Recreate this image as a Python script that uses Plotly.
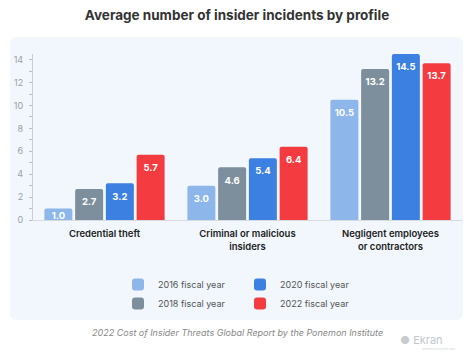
import plotly.graph_objects as go

categories = ["Credential theft", "Criminal or malicious<br>insiders", "Negligent employees<br>or contractors"]
series_names = ["2016 fiscal year", "2018 fiscal year", "2020 fiscal year", "2022 fiscal year"]
v2016 = [1.0, 3.0, 10.5]
v2018 = [2.7, 4.6, 13.2]
v2020 = [3.2, 5.4, 14.5]
v2022 = [5.7, 6.4, 13.7]
y_ticks = [0, 2, 4, 6, 8, 10, 12, 14]

colors = ["#8db6ea", "#7d8f9c", "#3c80e1", "#f43c40"]
legend_ids = ["legend", "legend", "legend2", "legend2"]
values = [v2016, v2018, v2020, v2022]

FONT = "Inter"

fig = go.Figure()
for i, (name, vals, col, lg) in enumerate(zip(series_names, values, colors, legend_ids)):
    fig.add_trace(go.Bar(
        x=categories, y=vals, name=name, legend=lg, offsetgroup=str(i),
        marker=dict(color=col, cornerradius=2, line=dict(width=0)),
        hoverinfo="skip",
    ))
for i, vals in enumerate(values):
    fig.add_trace(go.Scatter(
        x=categories, y=vals, mode="markers+text", offsetgroup=str(i),
        text=[f"{v:.1f}" for v in vals], textposition="bottom center",
        marker=dict(size=[13 if v >= 2 else 4 for v in vals], opacity=0),
        textfont=dict(color="white", size=9.5, family=FONT, weight=700),
        showlegend=False, hoverinfo="skip", cliponaxis=False,
    ))

W, H = 474, 357
L, R, T, B = 33, 12, 54, 137
pw, ph = W - L - R, H - T - B

def px(x):
    return (x - L) / pw

def py(y):
    return (H - B - y) / ph

# rounded panel background
x0, x1, y0, y1, r = px(10), px(463), py(37), py(320), 7
rx, ry = r / pw, r / ph
path = (f"M{x0+rx},{y0} L{x1-rx},{y0} Q{x1},{y0} {x1},{y0-ry} "
        f"L{x1},{y1+ry} Q{x1},{y1} {x1-rx},{y1} L{x0+rx},{y1} Q{x0},{y1} {x0},{y1+ry} "
        f"L{x0},{y0-ry} Q{x0},{y0} {x0+rx},{y0} Z")

tick_step = y_ticks[1] - y_ticks[0]

fig.update_layout(
    width=W, height=H, autosize=False,
    margin=dict(l=L, r=R, t=T, b=B, autoexpand=False),
    paper_bgcolor="white", plot_bgcolor="rgba(0,0,0,0)",
    font=dict(family=FONT),
    barmode="group", bargap=0.14, bargroupgap=0.09,
    scattermode="group", scattergap=0.14,
    title=dict(text="<b>Average number of insider incidents by profile</b>",
               x=0.5, xref="container", xanchor="center",
               y=1 - 15 / H, yref="container", yanchor="middle",
               font=dict(size=13.5, color="#333333", family=FONT)),
    shapes=[dict(type="path", path=path, xref="paper", yref="paper",
                 fillcolor="#f1f7fc", line=dict(width=0), layer="below")],
    xaxis=dict(type="category", showline=True, linecolor="#d5dbe1", linewidth=1, ticks="",
               tickfont=dict(size=9.5, color="#222222", family=FONT, weight=600),
               ticklabelstandoff=5,
               showgrid=False, zeroline=False, fixedrange=True, automargin=False),
    yaxis=dict(range=[0, 14.5], tickmode="linear", tick0=y_ticks[0], dtick=tick_step,
               ticks="outside", ticklen=3, automargin=False, ticklabelstandoff=4,
               tickcolor="#b8bec4", showline=True, linecolor="#c8ced4", linewidth=1,
               tickfont=dict(size=9, color="#9aa0a6", family=FONT),
               minor=dict(dtick=1, ticks="outside", ticklen=3, tickcolor="#b8bec4"),
               showgrid=False, zeroline=False),
    yaxis2=dict(range=[0, 14.5], overlaying="y", anchor="x", side="left",
                tickmode="linear", tick0=y_ticks[0], dtick=tick_step,
                ticks="inside", ticklen=3, tickcolor="#b8bec4", showticklabels=False,
                minor=dict(dtick=1, ticks="inside", ticklen=3, tickcolor="#b8bec4"),
                showgrid=False, zeroline=False, showline=False, automargin=False),
    legend=dict(orientation="v", xref="paper", yref="paper",
                x=px(118), y=py(270), xanchor="left", yanchor="top",
                bgcolor="rgba(0,0,0,0)", font=dict(size=9, color="#555555", family=FONT),
                tracegroupgap=0, itemclick=False),
    legend2=dict(orientation="v", xref="paper", yref="paper",
                 x=px(240), y=py(270), xanchor="left", yanchor="top",
                 bgcolor="rgba(0,0,0,0)", font=dict(size=9, color="#555555", family=FONT),
                 tracegroupgap=0, itemclick=False),
    annotations=[
        dict(text="<i>2022 Cost of Insider Threats Global Report by the Ponemon Institute</i>",
             xref="paper", yref="paper", x=px(237), y=py(332), showarrow=False,
             xanchor="center", yanchor="middle",
             font=dict(size=9, color="#888888", family=FONT)),
        dict(text="<span style='color:#c8ccd0'>●</span> Ekran",
             xref="paper", yref="paper", x=px(445), y=py(340), showarrow=False,
             xanchor="right", yanchor="middle",
             font=dict(size=11, color="#c4c8cc", family=FONT)),
        dict(text="www.ekransystem.com",
             xref="paper", yref="paper", x=px(458), y=py(349), showarrow=False,
             xanchor="right", yanchor="middle",
             font=dict(size=3, color="#d0d4d8", family=FONT)),
    ],
)

fig.write_html("out.html", config={"displayModeBar": False},
               post_script="document.body.style.margin='0';document.body.style.padding='0';")
